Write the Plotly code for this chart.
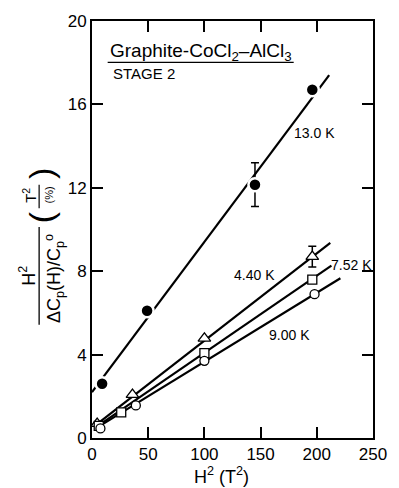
import plotly.graph_objects as go

# Measured points, H^2 (T^2) vs H^2 / (dCp(H)/Cp0)  (T^2 / %)
h2_130 = [9, 49, 145, 196]
y_130 = [2.6, 6.1, 12.15, 16.7]
err_130 = [0, 0, 1.05, 0]

h2_440 = [4.6, 36, 100, 196]
y_440 = [0.69, 2.08, 4.78, 8.7]
err_440 = [0, 0, 0, 0.5]

h2_752 = [6, 26, 100, 196]
y_752 = [0.58, 1.23, 4.07, 7.6]

h2_900 = [7.5, 39, 100, 198]
y_900 = [0.46, 1.56, 3.7, 6.9]

# Straight-line fits (end points)
fit_130_x = [0, 211]
fit_130_y = [2.2, 17.4]
fit_440_x = [3, 212]
fit_440_y = [0.6, 9.36]
fit_752_x = [3, 213]
fit_752_y = [0.5, 8.27]
fit_900_x = [3, 221]
fit_900_y = [0.45, 7.66]

x_ticks = [0, 50, 100, 150, 200, 250]
y_ticks = [0, 4, 8, 12, 16, 20]

FONT = "Liberation Sans"
W, H = 399, 488
L, R, T, B = 92, 20, 15, 50
PW, PH = W - L - R, H - T - B


def px(x):
    return (x - L) / PW


def py(y):
    return (H - B - y) / PH


fig = go.Figure()

# error bars
for xs, ys, es in [(h2_130, y_130, err_130), (h2_440, y_440, err_440)]:
    ex = [x for x, e in zip(xs, es) if e > 0]
    ey = [y for y, e in zip(ys, es) if e > 0]
    ee = [e for e in es if e > 0]
    fig.add_trace(go.Scatter(
        x=ex, y=ey, mode="markers",
        marker=dict(size=2, color="rgba(0,0,0,0)"),
        error_y=dict(type="data", array=ee, visible=True, color="black",
                     thickness=1.5, width=4),
        showlegend=False, hoverinfo="skip"))

# fit lines
for fx, fy in [(fit_130_x, fit_130_y), (fit_440_x, fit_440_y),
               (fit_752_x, fit_752_y), (fit_900_x, fit_900_y)]:
    fig.add_trace(go.Scatter(x=fx, y=fy, mode="lines",
                             line=dict(color="black", width=2.2),
                             showlegend=False, hoverinfo="skip"))

# markers
fig.add_trace(go.Scatter(x=h2_130, y=y_130, mode="markers",
                         marker=dict(symbol="circle", size=13, color="black",
                                     line=dict(color="white", width=2.5)),
                         showlegend=False))
fig.add_trace(go.Scatter(x=h2_440, y=y_440, mode="markers",
                         marker=dict(symbol="triangle-up", size=11, color="white",
                                     line=dict(color="black", width=1.3)),
                         showlegend=False))
fig.add_trace(go.Scatter(x=h2_752, y=y_752, mode="markers",
                         marker=dict(symbol="square", size=9, color="white",
                                     line=dict(color="black", width=1.3)),
                         showlegend=False))
fig.add_trace(go.Scatter(x=h2_900, y=y_900, mode="markers",
                         marker=dict(symbol="circle", size=9, color="white",
                                     line=dict(color="black", width=1.3)),
                         showlegend=False))

ann = []
# curve labels
for txt, x, y in [("13.0 K", 198, 14.65), ("4.40 K", 145, 7.8),
                  ("7.52 K", 231, 8.3), ("9.00 K", 176, 4.95)]:
    ann.append(dict(x=x, y=y, xref="x", yref="y", text=txt, showarrow=False,
                    xanchor="center", yanchor="middle",
                    font=dict(family=FONT, size=14, color="black")))

# heading
ann.append(dict(x=px(108), y=py(46), xref="paper", yref="paper",
                xanchor="left", yanchor="middle", showarrow=False,
                text="Graphite-CoCl<sub>2</sub>\u2013AlCl<sub>3</sub>",
                font=dict(family=FONT, size=19, color="black")))
ann.append(dict(x=px(111), y=py(68), xref="paper", yref="paper",
                xanchor="left", yanchor="middle", showarrow=False,
                text="STAGE 2", font=dict(family=FONT, size=15, color="black")))

# x-axis title
ann.append(dict(x=px(224), y=py(476), xref="paper", yref="paper",
                xanchor="center", yanchor="middle",
                showarrow=False, text="H<sup>2</sup> (T<sup>2</sup>)",
                font=dict(family=FONT, size=18, color="black")))


# y-axis title pieces (rotated)
def rot(text, x, y, size):
    return dict(x=px(x), y=py(y), xref="paper", yref="paper", showarrow=False,
                xanchor="center", yanchor="middle", textangle=-90, text=text,
                font=dict(family=FONT, size=size, color="black"))


ann.append(rot("H<sup>2</sup>", 26, 273, 18))
ann.append(rot("\u0394C<sub>p</sub>(H)/C<sub>p</sub><sup>o</sup>", 53, 276, 18))
ann.append(rot("T<sup>2</sup>", 28, 192, 15))
ann.append(rot("(%)", 48, 191, 11))
ann.append(rot("(", 40, 214, 34))
ann.append(rot(")", 40, 170, 34))

shapes = [
    dict(type="line", xref="paper", yref="paper", x0=px(108), x1=px(298),
         y0=py(57), y1=py(57), line=dict(color="black", width=1.3)),
    dict(type="line", xref="paper", yref="paper", x0=px(38), x1=px(38),
         y0=py(224), y1=py(323), line=dict(color="black", width=1.3)),
    dict(type="line", xref="paper", yref="paper", x0=px(38), x1=px(38),
         y0=py(181), y1=py(205), line=dict(color="black", width=1.2)),
]

axis_common = dict(showgrid=False, zeroline=False, showline=True, linecolor="black",
                   linewidth=2, mirror="ticks", ticks="inside", ticklen=11,
                   tickwidth=1.5, tickcolor="black",
                   tickfont=dict(family=FONT, size=17, color="black"))

fig.update_layout(
    width=W, height=H, margin=dict(l=L, r=R, t=T, b=B),
    paper_bgcolor="white", plot_bgcolor="white",
    xaxis=dict(range=[0, 250], tickvals=x_ticks, **axis_common),
    yaxis=dict(range=[0, 20], tickvals=y_ticks, **axis_common),
    annotations=ann, shapes=shapes,
)

fig.write_html("out.html")
